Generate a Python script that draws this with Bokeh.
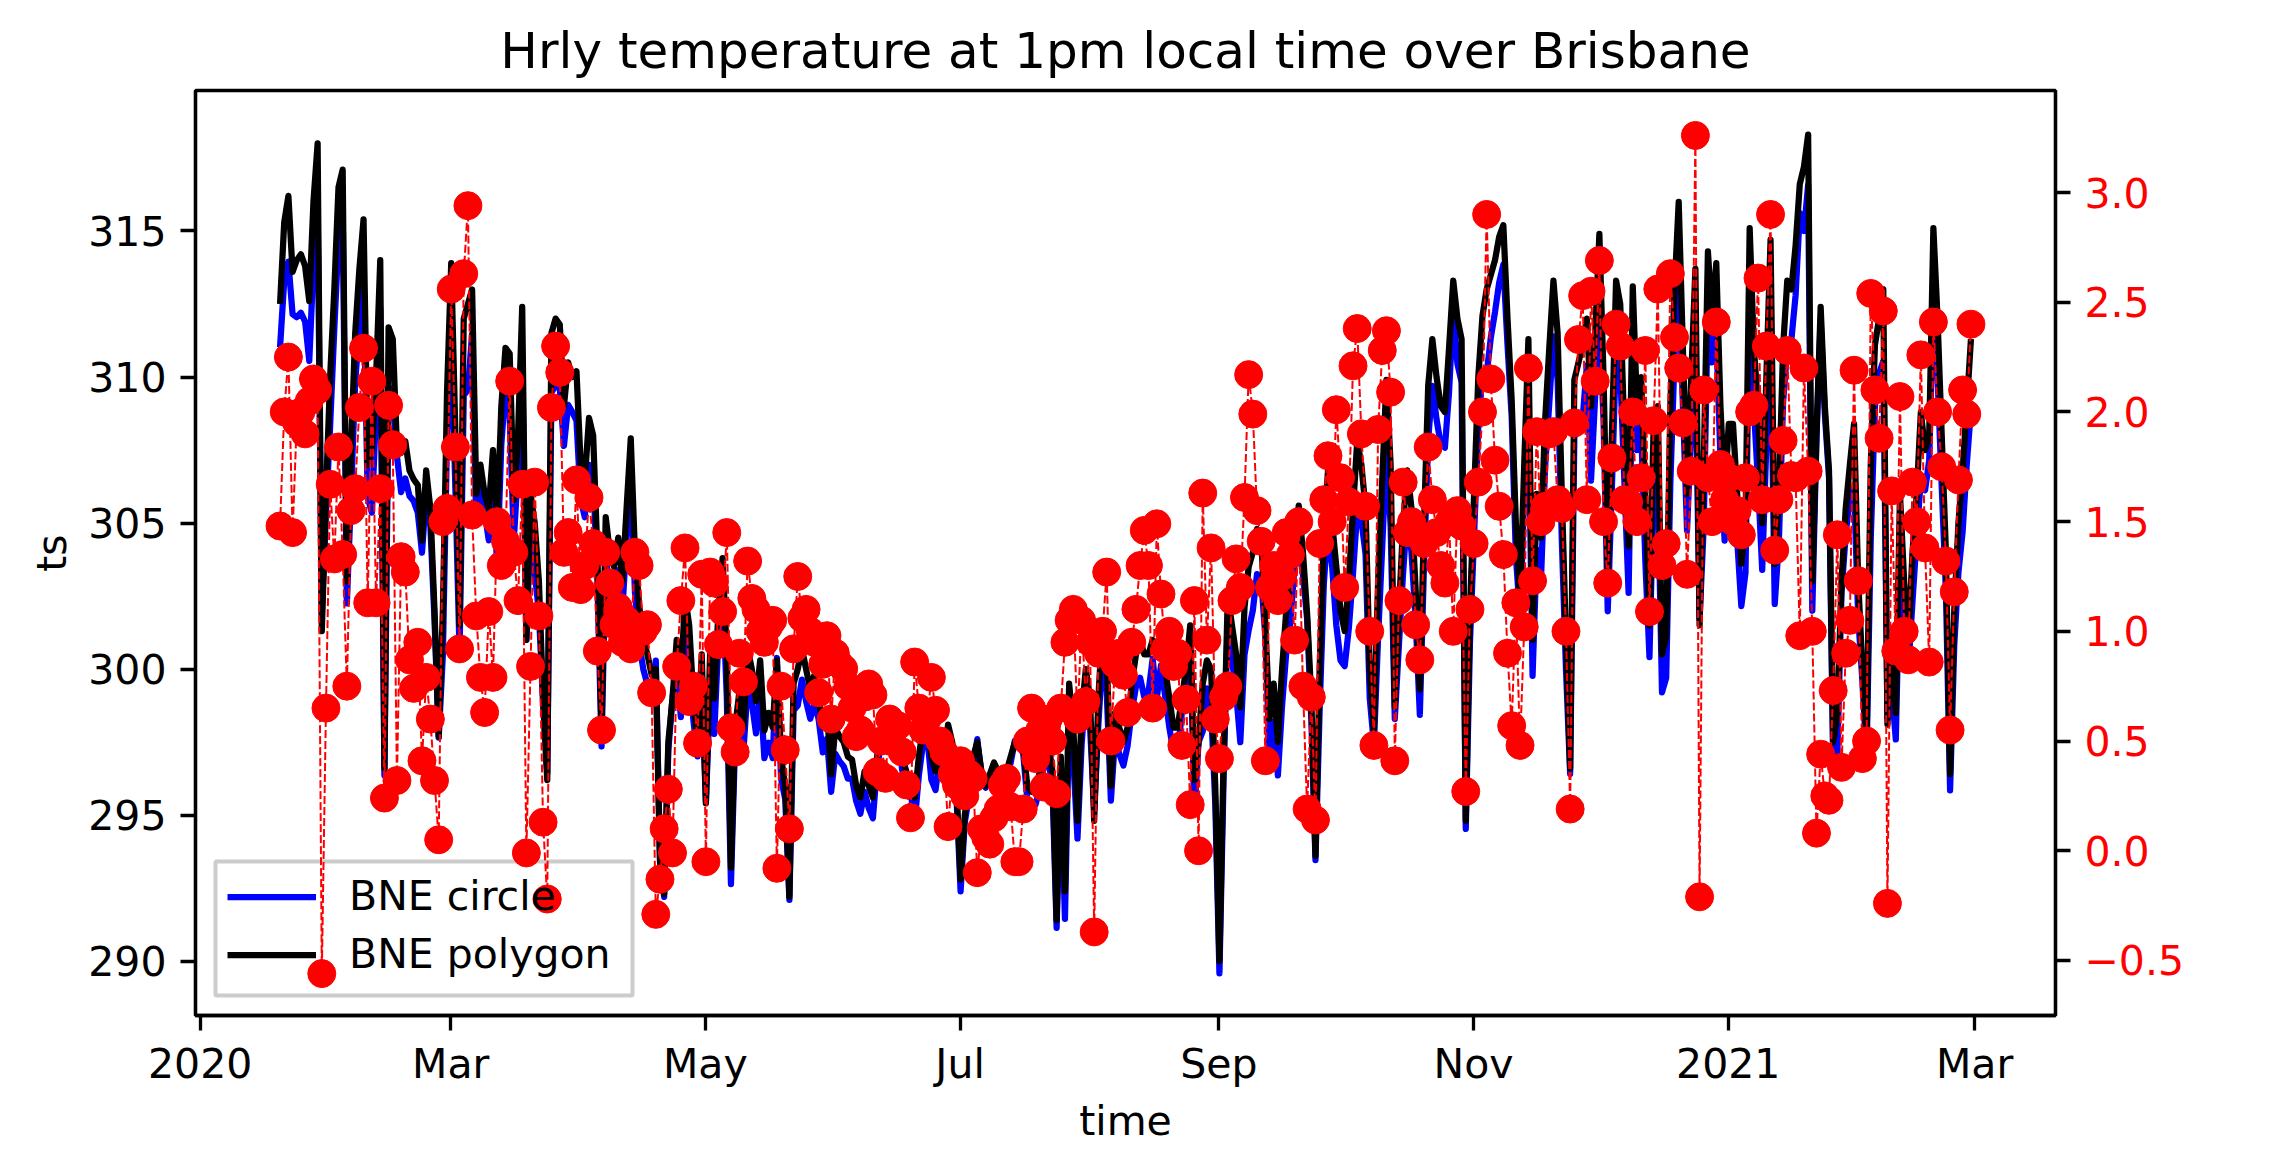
import pandas as pd
from datetime import datetime
from bokeh.plotting import figure
from bokeh.models import (ColumnDataSource, Range1d, LinearAxis, FixedTicker,
                          Legend, LegendItem, Label, BoxAnnotation)
from bokeh.embed import file_html
from bokeh.resources import INLINE

# ---------------- data (daily values at 1pm local time) ----------------
start_date = "2020-01-20 03:00"

ts_polygon = [
    312.5, 315.3, 316.2, 313.6, 314.0, 314.2, 313.8, 312.6, 316.0, 318.0,
    301.3, 306.0, 310.0, 313.0, 316.5, 317.1, 303.0, 307.5, 311.5, 313.7,
    315.4, 307.0, 307.5, 310.0, 314.0, 296.6, 311.7, 311.3, 307.6, 307.4,
    307.8, 306.8, 306.5, 306.3, 304.4, 306.8, 305.5, 302.0, 297.7, 302.0,
    309.5, 313.9, 308.0, 301.5, 312.0, 312.5, 313.0, 306.0, 307.0, 306.0,
    305.5, 307.5, 305.0, 309.0, 311.0, 310.8, 305.8, 308.0, 312.4, 301.0,
    306.0, 305.0, 303.0, 299.0, 296.2, 311.5, 312.0, 311.8, 309.0, 310.5,
    310.0, 310.2, 307.0, 306.5, 308.6, 308.0, 304.0, 297.9, 305.2, 304.0,
    303.5, 304.5, 303.0, 305.5, 307.9, 304.0, 302.2, 301.0, 300.5, 299.8,
    300.0, 293.4, 292.3, 297.5, 299.0, 301.0, 299.5, 302.5, 301.5, 299.0,
    297.5, 300.5, 295.4, 300.5, 299.0, 302.0, 303.8, 300.5, 293.2, 298.0,
    299.2, 298.0, 300.7, 300.0, 298.9, 300.3, 297.9, 298.5, 298.0, 300.3,
    297.0, 296.0, 292.2, 299.5, 300.0, 300.7, 300.0, 299.3, 299.8, 299.0,
    298.0, 298.6, 296.4, 298.0, 297.7, 297.5, 297.0, 296.9, 296.0, 295.6,
    296.5, 296.0, 295.6, 297.0, 298.0, 298.3, 298.0, 297.8, 298.5, 297.0,
    296.5, 296.0, 295.6, 297.0, 298.0, 298.3, 297.0, 296.5, 297.5, 297.0,
    298.1, 297.5, 296.0, 292.8, 295.0, 296.0, 297.0, 297.5, 296.5, 296.0,
    296.4, 296.8, 296.5, 295.5, 296.5, 297.0, 297.5, 297.3, 297.3, 296.0,
    295.8, 295.8, 296.5, 297.0, 297.5, 296.5, 291.4, 297.0, 292.4, 299.5,
    298.0, 294.8, 298.5, 300.0, 299.0, 294.8, 299.0, 301.5, 300.5, 296.0,
    298.5, 298.0, 297.5, 298.0, 299.5, 300.5, 301.0, 300.5, 300.5, 301.0,
    300.5, 301.3, 300.0, 299.0, 298.0, 298.0, 299.0, 300.0, 301.5, 296.2,
    297.5, 299.5, 300.3, 300.0, 296.0, 290.0, 297.0, 302.5, 301.5, 300.5,
    298.7, 302.1, 303.5, 304.0, 304.8, 304.5, 301.5, 298.3, 299.5, 297.5,
    300.0, 302.0, 303.0, 304.5, 305.6, 304.0, 301.9, 299.0, 293.6, 300.0,
    304.5, 306.8, 305.0, 303.5, 302.0, 301.3, 303.0, 305.5, 307.8, 307.0,
    305.5, 300.0, 297.9, 303.0, 306.5, 309.9, 307.0, 298.7, 302.0, 305.0,
    306.8, 305.5, 302.7, 299.3, 305.0, 309.7, 311.3, 310.0, 309.0, 308.8,
    311.0, 313.3, 312.0, 311.3, 294.8, 302.0, 306.0, 310.0, 312.1, 313.0,
    313.5, 314.0, 314.8, 315.2, 312.0, 309.2, 305.0, 302.3, 307.0, 311.3,
    301.0, 306.0, 304.5, 308.5, 311.0, 313.3, 311.5, 306.0, 301.0, 296.6,
    309.9, 310.5, 311.1, 312.0, 309.0, 311.5, 314.9, 310.0, 303.2, 308.0,
    313.3, 312.5, 308.0, 304.2, 313.1, 309.0, 310.0, 306.0, 301.5, 308.4,
    309.0, 300.5, 301.1, 309.0, 313.0, 316.0, 311.0, 306.0, 310.0, 313.7,
    301.5, 307.0, 314.3, 312.0, 313.9, 309.0, 306.0, 308.4, 308.4, 306.0,
    303.6, 305.0, 315.1, 311.0, 309.0, 305.0, 310.0, 314.7, 303.6, 306.0,
    311.0, 313.3, 313.0, 314.5, 316.6, 317.2, 318.3, 303.0, 308.0, 312.4,
    309.0, 306.8, 297.5, 298.5, 303.0, 305.5, 307.0, 308.4, 303.0, 300.0,
    297.5, 307.0, 311.1, 312.0, 313.0, 298.1, 301.0, 298.5, 306.0, 303.0,
    300.9, 304.0, 306.0, 308.8, 307.5, 308.0, 315.1, 312.0, 308.0, 304.0,
    296.4, 302.0, 305.0, 306.8, 309.0, 311.3,
]

ts_circle = [
    311.02, 313.3, 313.95, 312.15, 312.05, 312.2, 311.9, 310.55, 313.85, 315.9,
    301.86, 305.35, 308.33, 311.67, 314.66, 315.75, 302.25, 305.95, 309.85, 311.68,
    313.11, 305.87, 305.36, 308.87, 312.35, 296.36, 309.67, 309.45, 307.28, 306.06,
    306.53, 305.93, 305.76, 305.35, 303.99, 306.01, 304.9, 301.68, 297.65, 300.5,
    307.94, 311.34, 306.16, 300.58, 309.37, 309.56, 311.47, 304.93, 306.21, 305.37,
    304.41, 306.71, 303.5, 307.7, 309.59, 308.66, 304.44, 306.86, 310.73, 301.01,
    305.16, 303.32, 301.93, 298.87, 296.42, 309.48, 309.7, 309.62, 307.64, 309.05,
    308.8, 308.51, 305.81, 305.2, 306.99, 306.6, 303.09, 297.35, 303.84, 302.78,
    302.47, 303.39, 302.05, 304.45, 306.98, 302.64, 300.9, 300.0, 299.47, 299.08,
    300.29, 293.53, 292.2, 297.22, 299.01, 300.16, 298.36, 301.12, 300.82, 298.25,
    297.01, 299.24, 295.45, 299.23, 297.78, 301.06, 302.71, 299.05, 292.64, 297.55,
    298.3, 297.23, 299.38, 298.85, 297.8, 299.3, 296.95, 297.48, 296.95, 300.38,
    296.25, 295.54, 292.1, 298.58, 298.75, 299.64, 298.9, 298.3, 298.85, 298.28,
    297.15, 297.62, 295.8, 297.1, 296.85, 296.67, 296.25, 296.25, 295.48, 295.05,
    295.8, 295.24, 294.89, 296.64, 297.5, 297.97, 297.4, 297.25, 297.93, 296.55,
    296.2, 295.85, 294.74, 296.35, 297.45, 297.7, 296.21, 295.86, 297.0, 296.55,
    297.99, 297.15, 295.7, 292.39, 294.75, 295.65, 296.67, 297.6, 296.4, 295.94,
    296.37, 296.65, 296.31, 295.2, 296.17, 296.8, 297.55, 297.35, 297.11, 295.5,
    295.15, 295.38, 295.95, 296.71, 296.9, 296.0, 291.14, 296.35, 291.45, 298.45,
    296.9, 294.2, 297.45, 299.32, 298.05, 295.17, 298.1, 300.5, 299.23, 295.5,
    297.65, 297.1, 296.7, 297.37, 298.55, 299.4, 299.7, 299.04, 299.2, 300.35,
    299.01, 300.13, 299.08, 298.0, 297.16, 297.1, 298.52, 299.31, 301.29, 295.06,
    297.5, 297.87, 299.34, 298.62, 295.4, 289.58, 296.3, 301.75, 300.36, 299.17,
    297.5, 300.49, 301.33, 302.01, 303.25, 303.09, 301.09, 297.1, 298.2, 296.36,
    298.75, 300.55, 301.65, 303.54, 304.1, 303.25, 301.71, 298.3, 293.46, 298.6,
    302.9, 305.0, 303.5, 301.49, 300.3, 300.1, 301.41, 303.29, 305.42, 305.1,
    303.93, 299.0, 297.42, 301.08, 304.22, 307.53, 304.91, 298.29, 300.86, 303.32,
    305.35, 304.0, 301.67, 298.43, 303.6, 307.86, 309.7, 308.55, 307.7, 307.58,
    309.5, 312.3, 310.45, 309.82, 294.53, 300.9, 304.6, 308.32, 310.1, 310.1,
    311.35, 312.22, 313.23, 313.85, 311.1, 308.63, 303.87, 301.82, 305.98, 309.1,
    299.77, 304.09, 303.0, 306.93, 309.1, 311.39, 309.9, 304.44, 300.0, 296.41,
    307.95, 308.17, 308.57, 310.4, 306.45, 309.36, 312.21, 308.5, 301.98, 306.21,
    310.9, 310.2, 306.4, 302.61, 311.1, 307.5, 308.3, 303.72, 300.41, 306.44,
    306.44, 299.2, 299.7, 306.37, 310.66, 313.8, 309.05, 304.74, 308.27, 310.44,
    301.71, 304.9, 312.6, 310.5, 311.49, 307.24, 304.4, 306.7, 306.9, 304.45,
    302.16, 303.3, 313.1, 308.97, 306.39, 303.4, 307.7, 311.8, 302.23, 304.4,
    309.13, 311.02, 311.29, 312.8, 315.62, 315.0, 316.57, 302.0, 307.92, 311.96,
    308.75, 306.57, 296.77, 297.06, 302.62, 304.6, 305.95, 306.21, 301.77, 299.58,
    297.0, 304.46, 309.0, 310.12, 310.54, 298.34, 299.36, 297.59, 303.93, 302.0,
    300.03, 302.32, 304.5, 306.54, 306.12, 307.14, 312.69, 310.0, 306.25, 302.68,
    295.85, 300.82, 303.31, 304.7, 307.01, 308.9,
]

ts_diff = [
    1.48, 2.0, 2.25, 1.45, 1.95, 2.0, 1.9, 2.05, 2.15, 2.1,
    -0.56, 0.65, 1.67, 1.33, 1.84, 1.35, 0.75, 1.55, 1.65, 2.02,
    2.29, 1.13, 2.14, 1.13, 1.65, 0.24, 2.03, 1.85, 0.32, 1.34,
    1.27, 0.87, 0.74, 0.95, 0.41, 0.79, 0.6, 0.32, 0.05, 1.5,
    1.56, 2.56, 1.84, 0.92, 2.63, 2.94, 1.53, 1.07, 0.79, 0.63,
    1.09, 0.79, 1.5, 1.3, 1.41, 2.14, 1.36, 1.14, 1.67, -0.01,
    0.84, 1.68, 1.07, 0.13, -0.22, 2.02, 2.3, 2.18, 1.36, 1.45,
    1.2, 1.69, 1.19, 1.3, 1.61, 1.4, 0.91, 0.55, 1.36, 1.22,
    1.03, 1.11, 0.95, 1.05, 0.92, 1.36, 1.3, 1.0, 1.03, 0.72,
    -0.29, -0.13, 0.1, 0.28, -0.01, 0.84, 1.14, 1.38, 0.68, 0.75,
    0.49, 1.26, -0.05, 1.27, 1.22, 0.94, 1.09, 1.45, 0.56, 0.45,
    0.9, 0.77, 1.32, 1.15, 1.1, 1.0, 0.95, 1.02, 1.05, -0.08,
    0.75, 0.46, 0.1, 0.92, 1.25, 1.06, 1.1, 1.0, 0.95, 0.72,
    0.85, 0.98, 0.6, 0.9, 0.85, 0.83, 0.75, 0.65, 0.52, 0.55,
    0.7, 0.76, 0.71, 0.36, 0.5, 0.33, 0.6, 0.55, 0.57, 0.45,
    0.3, 0.15, 0.86, 0.65, 0.55, 0.6, 0.79, 0.64, 0.5, 0.45,
    0.11, 0.35, 0.3, 0.41, 0.25, 0.35, 0.33, -0.1, 0.1, 0.06,
    0.03, 0.15, 0.19, 0.3, 0.33, 0.2, -0.05, -0.05, 0.19, 0.5,
    0.65, 0.42, 0.55, 0.29, 0.6, 0.5, 0.26, 0.65, 0.95, 1.05,
    1.1, 0.6, 1.05, 0.68, 0.95, -0.37, 0.9, 1.0, 1.27, 0.5,
    0.85, 0.9, 0.8, 0.63, 0.95, 1.1, 1.3, 1.46, 1.3, 0.65,
    1.49, 1.17, 0.92, 1.0, 0.84, 0.9, 0.48, 0.69, 0.21, 1.14,
    0.0, 1.63, 0.96, 1.38, 0.6, 0.42, 0.7, 0.75, 1.14, 1.33,
    1.2, 1.61, 2.17, 1.99, 1.55, 1.41, 0.41, 1.2, 1.3, 1.14,
    1.25, 1.45, 1.35, 0.96, 1.5, 0.75, 0.19, 0.7, 0.14, 1.4,
    1.6, 1.8, 1.5, 2.01, 1.7, 1.2, 1.59, 2.21, 2.38, 1.9,
    1.57, 1.0, 0.48, 1.92, 2.28, 2.37, 2.09, 0.41, 1.14, 1.68,
    1.45, 1.5, 1.03, 0.87, 1.4, 1.84, 1.6, 1.45, 1.3, 1.22,
    1.5, 1.0, 1.55, 1.48, 0.27, 1.1, 1.4, 1.68, 2.0, 2.9,
    2.15, 1.78, 1.57, 1.35, 0.9, 0.57, 1.13, 0.48, 1.02, 2.2,
    1.23, 1.91, 1.5, 1.57, 1.9, 1.91, 1.6, 1.56, 1.0, 0.19,
    1.95, 2.33, 2.53, 1.6, 2.55, 2.14, 2.69, 1.5, 1.22, 1.79,
    2.4, 2.3, 1.6, 1.59, 2.0, 1.5, 1.7, 2.28, 1.09, 1.96,
    2.56, 1.3, 1.4, 2.63, 2.34, 2.2, 1.95, 1.26, 1.73, 3.26,
    -0.21, 2.1, 1.7, 1.5, 2.41, 1.76, 1.6, 1.7, 1.5, 1.55,
    1.44, 1.7, 2.0, 2.03, 2.61, 1.6, 2.3, 2.9, 1.37, 1.6,
    1.87, 2.28, 1.71, 1.7, 0.98, 2.2, 1.73, 1.0, 0.08, 0.44,
    0.25, 0.23, 0.73, 1.44, 0.38, 0.9, 1.05, 2.19, 1.23, 0.42,
    0.5, 2.54, 2.1, 1.88, 2.46, -0.24, 1.64, 0.91, 2.07, 1.0,
    0.87, 1.68, 1.5, 2.26, 1.38, 0.86, 2.41, 2.0, 1.75, 1.32,
    0.55, 1.18, 1.69, 2.1, 1.99, 2.4,
]

x_tick_dates = ["2020-01-01", "2020-03-01", "2020-05-01", "2020-07-01",
                "2020-09-01", "2020-11-01", "2021-01-01", "2021-03-01"]
x_tick_labels = ["2020", "Mar", "May", "Jul", "Sep", "Nov", "2021", "Mar"]
y_left_ticks = [290, 295, 300, 305, 310, 315]
y_right_ticks = [-0.5, 0.0, 0.5, 1.0, 1.5, 2.0, 2.5, 3.0]
y_right_labels = ["\u22120.5", "0.0", "0.5", "1.0", "1.5", "2.0", "2.5", "3.0"]

# ---------------- figure ----------------
n = min(len(ts_circle), len(ts_polygon), len(ts_diff))
dates = pd.date_range(start_date, periods=n, freq="D")
src = ColumnDataSource(dict(t=dates, circle=ts_circle[:n], poly=ts_polygon[:n], diff=ts_diff[:n]))

FONT = "DejaVu Sans"
TICK_FS = "41px"

p = figure(width=2272, height=1172, x_axis_type="datetime",
           output_backend="svg", toolbar_location=None,
           x_range=Range1d(datetime(2019, 12, 30, 21, 0), datetime(2021, 3, 20, 9, 0)),
           y_range=Range1d(288.14, 319.81),
           min_border_left=195, min_border_right=217,
           min_border_top=90, min_border_bottom=157,
           title="Hrly temperature at 1pm local time over Brisbane")
p.extra_y_ranges = {"diff": Range1d(-0.751, 3.465)}

p.title.text_font = FONT
p.title.text_font_size = "50px"
p.title.text_font_style = "normal"
p.title.align = "center"
p.title.text_color = "black"
p.title.standoff = 22

p.grid.visible = False
p.background_fill_color = "white"
p.border_fill_color = "white"
p.outline_line_color = "black"
p.outline_line_width = 3.3
p.outline_line_alpha = 1.0

right_axis = LinearAxis(y_range_name="diff")
p.add_layout(right_axis, "right")

for ax in [p.xaxis[0], p.yaxis[0], right_axis]:
    ax.major_tick_out = 15
    ax.major_tick_in = 0
    ax.minor_tick_out = 0
    ax.minor_tick_in = 0
    ax.major_tick_line_width = 3.3
    ax.major_tick_line_color = "black"
    ax.axis_line_width = 3.3
    ax.axis_line_color = "black"
    ax.major_label_text_font = FONT
    ax.major_label_text_font_size = TICK_FS
    ax.major_label_text_color = "black"
    ax.major_label_standoff = 14
    ax.axis_label_text_font = FONT
    ax.axis_label_text_font_size = TICK_FS
    ax.axis_label_text_font_style = "normal"
    ax.axis_label_text_color = "black"
    ax.axis_label_standoff = 16

x_ms = [pd.Timestamp(d).timestamp() * 1000.0 for d in x_tick_dates]
p.xaxis.ticker = FixedTicker(ticks=x_ms)
p.xaxis.major_label_overrides = {ms: lab for ms, lab in zip(x_ms, x_tick_labels)}
p.xaxis.axis_label = "time"
p.xaxis.major_label_standoff = 9
p.xaxis.axis_label_standoff = 6

p.yaxis[0].ticker = FixedTicker(ticks=y_left_ticks)
p.yaxis[0].axis_label = "ts"
p.yaxis[0].axis_label_standoff = 9

right_axis.ticker = FixedTicker(ticks=y_right_ticks)
right_axis.major_label_overrides = {v: s for v, s in zip(y_right_ticks, y_right_labels)}
right_axis.major_label_text_color = "red"

# legend frame (semi-transparent, kept beneath the difference series as in the original)
p.add_layout(BoxAnnotation(left=20, right=437, bottom=20, top=154,
                           left_units="screen", right_units="screen",
                           bottom_units="screen", top_units="screen",
                           fill_color="white", fill_alpha=0.8,
                           line_color="#cccccc", line_width=4, line_alpha=1.0,
                           level="underlay"))

# temperature lines
r_c = p.line("t", "circle", source=src, line_color="blue", line_width=6.25, line_join="round")
r_p = p.line("t", "poly", source=src, line_color="black", line_width=6.25, line_join="round")

# difference series on the right axis
p.line("t", "diff", source=src, y_range_name="diff", line_color="red",
       line_width=2, line_dash="8 3")
p.scatter("t", "diff", source=src, y_range_name="diff", size=28,
          fill_color="red", line_color="red", line_width=1)

legend = Legend(items=[LegendItem(label="BNE circle", renderers=[r_c]),
                       LegendItem(label="BNE polygon", renderers=[r_p])],
                location=(20, 25), orientation="vertical",
                label_text_font=FONT, label_text_font_size=TICK_FS,
                label_text_color="black",
                glyph_width=89, glyph_height=43, label_height=43,
                label_standoff=33, padding=12, spacing=10, margin=0,
                border_line_alpha=0.0, background_fill_alpha=0.0)
p.add_layout(legend)

p.add_layout(Label(x=2022, y=459, x_units="screen", y_units="screen",
                   text="TS Diff: Poly-Circle", angle=90, angle_units="deg",
                   text_align="center", text_baseline="middle",
                   text_font=FONT, text_font_size=TICK_FS, text_color="red"))

open("out.html", "w").write(file_html(p, INLINE))
